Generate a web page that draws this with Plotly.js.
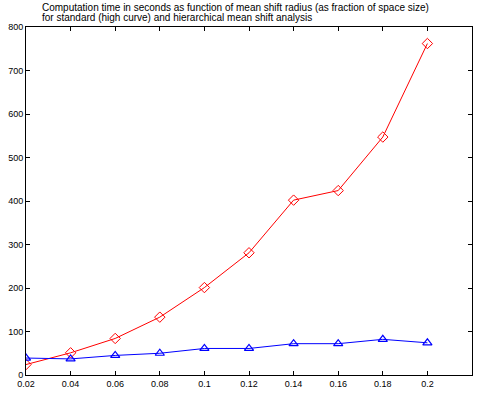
<!DOCTYPE html>
<html><head><meta charset="utf-8">
<script src="https://cdn.plot.ly/plotly-3.0.1.min.js"></script>
<style>html,body{margin:0;padding:0;background:#fff}#c{width:480px;height:396px}</style>
</head><body><div id="c"></div>
<script>
const radius = [0.02, 0.04, 0.06, 0.08, 0.1, 0.12, 0.14, 0.16, 0.18, 0.2];
const standardTime = [24, 51, 84, 133, 201, 281, 402, 424, 547, 762];
const hierarchicalTime = [39, 37, 45, 50, 61, 61, 72, 72, 82, 74];
const xTickVals = [0.02, 0.04, 0.06, 0.08, 0.1, 0.12, 0.14, 0.16, 0.18, 0.2, 0.22];
const xTickText = ["0.02", "0.04", "0.06", "0.08", "0.1", "0.12", "0.14", "0.16", "0.18", "0.2", "0.22"];
const yTickVals = [0, 100, 200, 300, 400, 500, 600, 700, 800];
const titleLines = ["Computation time in seconds as function of mean shift radius (as fraction of space size)", "for standard (high curve) and hierarchical mean shift analysis"];

const font = {family: "Liberation Sans, Arial, sans-serif", size: 9, color: "#000"};
const titleFont = {family: "Liberation Sans, Arial, sans-serif", size: 10, color: "#000"};
const traces = [
  {x: radius, y: standardTime, mode: "lines+markers", type: "scatter",
   line: {color: "#ff0000", width: 1},
   marker: {symbol: "diamond-open", size: 8, color: "#ff0000", line: {width: 1, color: "#ff0000"}}},
  {x: radius, y: hierarchicalTime, mode: "lines+markers", type: "scatter",
   line: {color: "#0000ff", width: 1},
   marker: {symbol: "triangle-up-open", size: 8, color: "#0000ff", line: {width: 1.2, color: "#0000ff"}}}
];
const axisCommon = {showgrid: false, zeroline: false, showline: true, linecolor: "#000", linewidth: 1,
  mirror: "ticks", ticks: "inside", ticklen: 4, tickcolor: "#000", tickfont: font};
const layout = {
  width: 480, height: 396, showlegend: false,
  paper_bgcolor: "#fff", plot_bgcolor: "#fff",
  margin: {l: 26, r: 8, t: 27, b: 21},
  font: font,
  xaxis: Object.assign({}, axisCommon, {range: [0.02, 0.22], tickmode: "array", tickvals: xTickVals, ticktext: xTickText}),
  yaxis: Object.assign({}, axisCommon, {range: [0, 800], tickmode: "array", tickvals: yTickVals, ticktext: yTickVals.map(String)}),
  annotations: titleLines.map((t, i) => ({
    text: t, xref: "paper", yref: "paper", x: 0.031, y: 1, xanchor: "left", yanchor: "middle",
    align: "left", showarrow: false, font: titleFont, yshift: 20 - 10 * i
  }))
};
Plotly.newPlot("c", traces, layout, {staticPlot: true, displayModeBar: false});
</script></body></html>
